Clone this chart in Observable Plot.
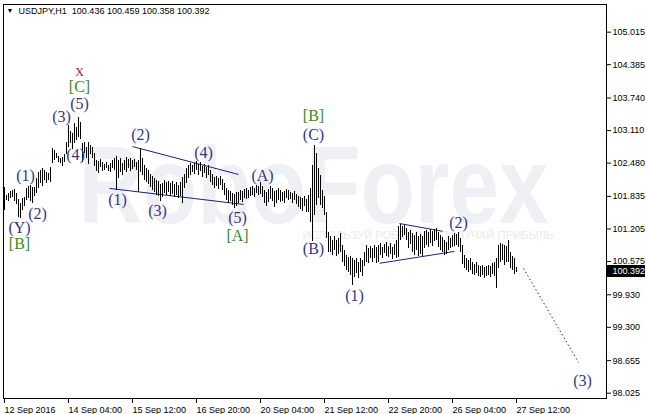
<!DOCTYPE html>
<html><head><meta charset="utf-8">
<script src="https://cdn.jsdelivr.net/npm/d3@7"></script>
<script src="https://cdn.jsdelivr.net/npm/@observablehq/plot@0.6"></script>
<style>body{margin:0;background:#fff}</style>
</head><body><div id="chart"></div>
<script>
// USDJPY H1 bars (index 0 = 12 Sep 2016 20:00, one bar per hour, weekends skipped)
const highs = [
102.01,101.85,101.89,101.93,101.95,101.97,101.89,101.78,101.70,101.80,
101.81,101.99,102.03,102.05,102.01,102.01,102.18,102.30,102.34,102.38,
102.34,102.30,102.28,102.40,102.76,102.73,102.67,102.61,102.57,102.59,
102.65,102.88,103.21,103.09,103.05,103.25,103.17,103.36,103.27,102.86,
102.88,102.78,102.88,102.82,102.78,102.67,102.53,102.51,102.55,102.49,
102.45,102.49,102.43,102.47,102.53,102.57,102.61,102.53,102.57,102.47,
102.53,102.59,102.55,102.57,102.53,102.55,102.49,102.53,102.76,102.57,
102.43,102.38,102.34,102.26,102.22,102.18,102.14,102.12,102.07,102.09,
102.14,102.11,102.12,102.09,102.12,102.07,102.11,102.05,102.11,102.20,
102.26,102.38,102.43,102.47,102.43,102.47,102.51,102.45,102.49,102.41,
102.45,102.40,102.43,102.34,102.26,102.20,102.22,102.18,102.22,102.16,
102.09,101.99,101.95,101.93,101.89,101.87,101.91,101.91,101.95,101.93,
101.97,101.99,101.95,102.01,102.03,101.99,102.05,102.03,102.11,102.03,
101.95,101.91,101.97,102.03,101.99,101.93,101.95,101.99,101.95,101.91,
101.93,101.97,101.95,101.91,101.89,101.93,101.87,101.83,101.81,101.80,
101.83,101.78,101.85,101.99,102.43,102.82,102.67,102.38,102.24,101.95,
101.83,101.52,101.14,101.06,100.98,101.06,100.98,101.02,101.12,100.89,
100.79,100.69,100.65,100.67,100.63,100.60,100.63,100.56,100.63,100.60,
100.75,100.89,100.83,100.87,100.83,100.89,100.85,100.89,100.92,100.85,
100.90,100.94,100.87,100.92,100.85,100.90,100.98,101.25,101.29,101.25,
101.27,101.21,101.14,101.18,101.12,101.08,101.14,101.06,101.10,101.06,
101.16,101.18,101.14,101.20,101.16,101.20,101.21,101.14,101.08,101.04,
100.98,100.94,101.06,101.02,101.08,101.12,101.10,101.14,101.02,100.89,
100.69,100.63,100.60,100.63,100.56,100.52,100.56,100.50,100.48,100.50,
100.46,100.48,100.50,100.48,100.54,100.56,100.63,100.89,100.92,100.90,
100.89,100.87,100.98,100.75,100.67,100.63,100.459];
const lows = [
101.56,101.76,101.74,101.80,101.81,101.74,101.68,101.43,101.41,101.56,
101.64,101.76,101.80,101.74,101.70,101.83,101.89,101.99,102.09,102.03,
102.14,102.09,102.14,102.11,102.47,102.53,102.57,102.49,102.47,102.41,
102.49,102.65,102.78,102.86,102.74,102.86,102.92,102.98,102.94,102.49,
102.67,102.57,102.45,102.65,102.57,102.41,102.32,102.28,102.40,102.32,
102.34,102.38,102.32,102.30,102.38,102.34,101.95,102.18,102.30,102.24,
102.34,102.30,102.38,102.32,102.36,102.40,102.34,101.91,102.30,102.24,
102.14,102.11,102.07,102.01,101.95,101.91,101.85,101.83,101.74,101.81,
101.89,101.85,101.91,101.83,101.87,101.81,101.85,101.80,101.83,101.70,
101.99,102.09,102.18,102.24,102.30,102.26,102.34,102.24,102.32,102.20,
102.28,102.18,102.24,102.11,102.05,101.99,102.03,101.97,102.05,101.95,
101.85,101.76,101.70,101.74,101.66,101.60,101.64,101.70,101.76,101.72,
101.80,101.78,101.80,101.83,101.85,101.81,101.89,101.85,101.87,101.81,
101.70,101.64,101.72,101.78,101.74,101.62,101.70,101.76,101.72,101.74,
101.70,101.80,101.76,101.78,101.70,101.76,101.68,101.62,101.58,101.54,
101.64,101.52,101.52,101.33,100.96,101.47,101.66,101.80,101.66,101.60,
101.47,101.02,100.75,100.75,100.69,100.79,100.67,100.71,100.75,100.56,
100.48,100.40,100.36,100.30,100.11,100.27,100.34,100.25,100.36,100.29,
100.48,100.56,100.54,100.63,100.56,100.63,100.54,100.56,100.69,100.63,
100.73,100.67,100.65,100.71,100.61,100.69,100.63,100.65,100.98,101.04,
101.08,100.98,100.83,100.90,100.75,100.69,100.79,100.67,100.71,100.67,
100.83,100.89,100.85,100.92,100.87,100.96,100.98,100.85,100.79,100.75,
100.69,100.71,100.79,100.83,100.85,100.87,100.89,100.85,100.75,100.52,
100.44,100.40,100.36,100.40,100.32,100.30,100.34,100.29,100.27,100.30,
100.25,100.29,100.30,100.27,100.32,100.29,100.05,100.44,100.56,100.60,
100.50,100.56,100.56,100.44,100.40,100.32,100.358];

const xTickIdx = [0, 32, 64, 96, 128, 160, 192, 224, 256];
const xTickLabels = ["12 Sep 2016","14 Sep 04:00","15 Sep 12:00","16 Sep 20:00","20 Sep 04:00","21 Sep 12:00","22 Sep 20:00","26 Sep 04:00","27 Sep 12:00"];
const yTicks = [105.015,104.385,103.740,103.110,102.480,101.835,101.205,100.575,99.930,99.300,98.655,98.025];
const lastClose = 100.392;
const titleText = "USDJPY,H1\u00a0\u00a0100.436 100.459 100.358 100.392";

// Elliott wave labels
const labelText  = ["(1)","(2)","(Y)","[B]","(3)","(4)","(5)","[C]","X","(1)","(2)","(3)","(4)","(5)","[A]","(A)","[B]","(C)","(B)","(1)","(2)","(3)"];
const labelIdx   = [10.5,16.5,7.5,7.5,28.5,35.5,37.5,37.5,37.5,56.5,68,76.5,99.5,116.5,116.5,129,154.5,154.5,154.5,175,227,289];
const labelPrice = [102.24,101.50,101.23,100.92,103.38,102.63,103.62,103.96,104.25,101.76,103.02,101.56,102.67,101.41,101.08,102.24,103.40,103.03,100.81,99.90,101.33,98.27];
const labelKind  = ["w","w","w","g","w","w","w","g","r","w","w","w","w","w","g","w","g","w","w","w","w","w"];
const kindColor = {w: "#35358c", g: "#3a8a22", r: "#a31a1a"};

// trend lines (bar index, price)
const trendX1 = [64, 52.5, 197.5, 187.5];
const trendP1 = [102.80, 101.99, 101.31, 100.54];
const trendX2 = [117, 119.5, 219, 225];
const trendP2 = [102.26, 101.68, 101.16, 100.77];
// forecast dotted line
const fcX = [259.5, 287];
const fcP = [100.44, 98.62];

const watermark = "RoboForex";
const watermarkSub = "ИСПОЛЬЗУЙ РОБОТОВ - ПОЛУЧАЙ ПРИБЫЛЬ";

const bars = highs.map((h, i) => ({i, high: h, low: lows[i]}));
const labels = labelText.map((t, k) => ({t, i: labelIdx[k], p: labelPrice[k], c: kindColor[labelKind[k]], big: labelKind[k] !== "r"}));
const trends = trendX1.map((x1, k) => ({x1, y1: trendP1[k], x2: trendX2[k], y2: trendP2[k]}));
const forecast = [{x1: fcX[0], y1: fcP[0], x2: fcX[1], y2: fcP[1]}];
const serif = "Liberation Serif, Times New Roman, serif";

const chart = Plot.plot({
  width: 646, height: 414,
  marginTop: 4, marginBottom: 16, marginLeft: 3, marginRight: 40,
  x: {type: "linear", domain: [-0.5, 301], axis: null},
  y: {domain: [97.922, 105.551], axis: null},
  color: {type: "identity"},
  style: {background: "#fff", fontFamily: "Liberation Sans, Arial, sans-serif", fontSize: "9px", color: "#000", overflow: "visible"},
  marks: [
    Plot.text([{t: watermark, i: 37, p: 102.01}], {x: "i", y: "p", text: "t", textAnchor: "start", fontSize: 110, fontWeight: "bold", fill: "#eef0f4"}),
    Plot.text([{t: watermarkSub, i: 149, p: 101.08}], {x: "i", y: "p", text: "t", textAnchor: "start", fontSize: 11, fill: "#e8eaee"}),
    Plot.link(trends, {x1: "x1", y1: "y1", x2: "x2", y2: "y2", stroke: "#1f1f7a", strokeWidth: 1}),
    Plot.link(forecast, {x1: "x1", y1: "y1", x2: "x2", y2: "y2", stroke: "#1f1f7a", strokeWidth: 1, strokeDasharray: "1.5,2.5"}),
    Plot.ruleX(bars, {x: "i", y1: "low", y2: "high", stroke: "#000", strokeWidth: 1, shapeRendering: "crispEdges"}),
    Plot.text(labels.filter(d => d.big), {x: "i", y: "p", text: "t", fill: "c", fontFamily: serif, fontSize: 16}),
    Plot.text(labels.filter(d => !d.big), {x: "i", y: "p", text: "t", fill: "c", fontFamily: serif, fontSize: 12}),
    Plot.frame({stroke: "#000"}),
    Plot.axisY({anchor: "right", ticks: yTicks, tickFormat: d => d.toFixed(3), tickSize: 4, tickPadding: 2}),
    Plot.axisX({ticks: xTickIdx, tickFormat: d => xTickLabels[xTickIdx.indexOf(d)], tickSize: 5, tickPadding: 3, textAnchor: "start"}),
    Plot.ruleY([{p: lastClose, a: 301, b: 320.5}], {y: "p", x1: "a", x2: "b", stroke: "#000", strokeWidth: 12}),
    Plot.text([{p: lastClose, a: 301, t: lastClose.toFixed(3)}], {x: "a", y: "p", text: "t", fill: "#fff", textAnchor: "start", dx: 6}),
    Plot.text(["\u25BC"], {frameAnchor: "top-left", dx: 3, dy: 4, fontSize: 7, fill: "#000"}),
    Plot.text([titleText], {frameAnchor: "top-left", dx: 15, dy: 3, fill: "#000"})
  ]
});
document.getElementById("chart").appendChild(chart);
const svg = d3.select(chart);
svg.selectAll("text").filter(function() { return this.textContent === watermark; })
  .attr("textLength", 470).attr("lengthAdjust", "spacingAndGlyphs");
svg.selectAll("text").filter(function() { return this.textContent === watermarkSub; })
  .attr("textLength", 251).attr("lengthAdjust", "spacingAndGlyphs");
</script>
</body></html>
